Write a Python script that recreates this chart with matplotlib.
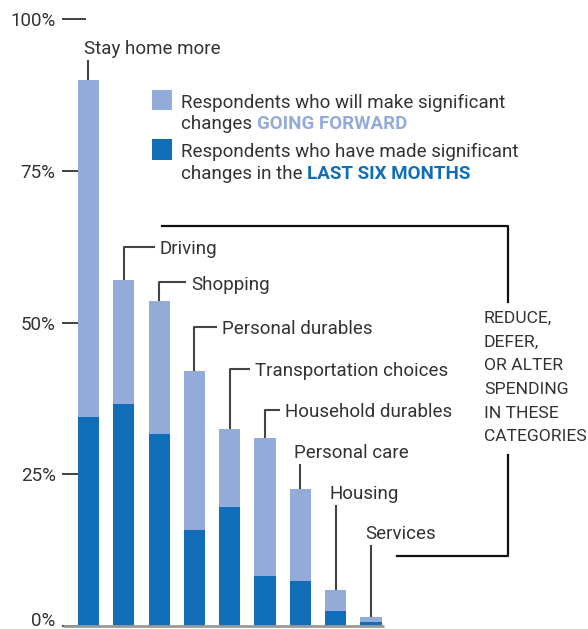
import matplotlib
matplotlib.use("Agg")
import matplotlib.pyplot as plt

plt.rcParams['font.family'] = ['Roboto', 'DejaVu Sans']

categories = ['Stay home more', 'Driving', 'Shopping', 'Personal durables',
              'Transportation choices', 'Household durables', 'Personal care',
              'Housing', 'Services']
going_forward = [90, 57, 53.5, 42, 32.5, 31, 22.5, 6, 1.5]
last_six_months = [34.5, 36.5, 31.7, 15.8, 19.6, 8.2, 7.4, 2.5, 0.7]
yticks = [0, 25, 50, 75, 100]
ytick_labels = ['0%', '25%', '50%', '75%', '100%']

LIGHT = '#93abd8'
DARK = '#106eb8'
TXT = '#333333'
FS = 13.5
DY = -0.35  # small nudge so text centres line up with the reference

fig = plt.figure(figsize=(5.88, 6.29), dpi=100)
ax = fig.add_axes([0, 0, 1, 1])
ax.set_xlim(-2.506, 14.146)
ax.set_ylim(-0.494, 103.13)
ax.axis('off')

x = list(range(len(categories)))

# tick marks + labels
for v, lab in zip(yticks, ytick_labels):
    ax.plot([-0.75, -0.07], [v, v], color=TXT, lw=1.3, zorder=1, solid_capstyle='butt')
    ax.text(-0.93, max(v + DY, 0.9), lab, ha='right', va='center', fontsize=FS, color=TXT)

ax.bar(x, going_forward, width=0.6, color=LIGHT, zorder=2)
ax.bar(x, last_six_months, width=0.6, color=DARK, zorder=3)
ax.plot([-0.72, 8.37], [0, 0], color='#999999', lw=2, zorder=4, solid_capstyle='butt')

# label layout: label y (data), label x offset from bar center (data), leader has elbow?
label_y = [95.4, 62.4, 56.6, 49.2, 42.4, 35.6, 28.8, 22.1, 15.5]
label_dx = [-0.13, 1.02, 0.90, 0.78, 0.71, 0.57, -0.17, -0.17, -0.17]
elbow = [False, True, True, True, True, True, False, False, False]
for i in x:
    top = going_forward[i]
    if elbow[i]:
        ax.plot([i, i, i + label_dx[i] - 0.17], [top, label_y[i], label_y[i]],
                color='#444444', lw=1.5, zorder=1)
    else:
        ax.plot([i, i], [top, label_y[i] - 2.3], color='#444444', lw=1.5, zorder=1)
    ax.text(i + label_dx[i], label_y[i] + DY, categories[i], ha='left', va='center',
            fontsize=FS, color=TXT)

# bracket
ax.plot([2.08, 11.88, 11.88], [65.9, 65.9, 53.4], color='#111111', lw=1.6)
ax.plot([11.88, 11.88, 8.74], [28.2, 11.5, 11.5], color='#111111', lw=1.6)
ax.text(11.2, 40.9, 'REDUCE,\nDEFER,\nOR ALTER\nSPENDING\nIN THESE\nCATEGORIES',
        ha='left', va='center', fontsize=12.6, color=TXT, linespacing=1.72)

# legend
ax.bar([2.08], [3.3], bottom=[85.0], width=0.57, color=LIGHT)
ax.bar([2.08], [3.4], bottom=[76.8], width=0.59, color=DARK)
lx = (181 - 88.5) / 35.31
ax.text(lx, 86.6 + DY, 'Respondents who will make significant', ha='left', va='center',
        fontsize=FS, color=TXT)
t1 = ax.text(lx, 83.1 + DY, 'changes ', ha='left', va='center', fontsize=FS, color=TXT)
ax.text(lx, 78.4 + DY, 'Respondents who have made significant', ha='left', va='center',
        fontsize=FS, color=TXT)
t2 = ax.text(lx, 74.8 + DY, 'changes in the ', ha='left', va='center', fontsize=FS, color=TXT)
ax.annotate('GOING FORWARD', xy=(1, 0), xycoords=t1, ha='left', va='bottom',
            fontsize=FS, color=LIGHT, fontweight='bold')
ax.annotate('LAST SIX MONTHS', xy=(1, 0), xycoords=t2, ha='left', va='bottom',
            fontsize=FS, color=DARK, fontweight='bold')

fig.savefig('out.png', dpi=100)
